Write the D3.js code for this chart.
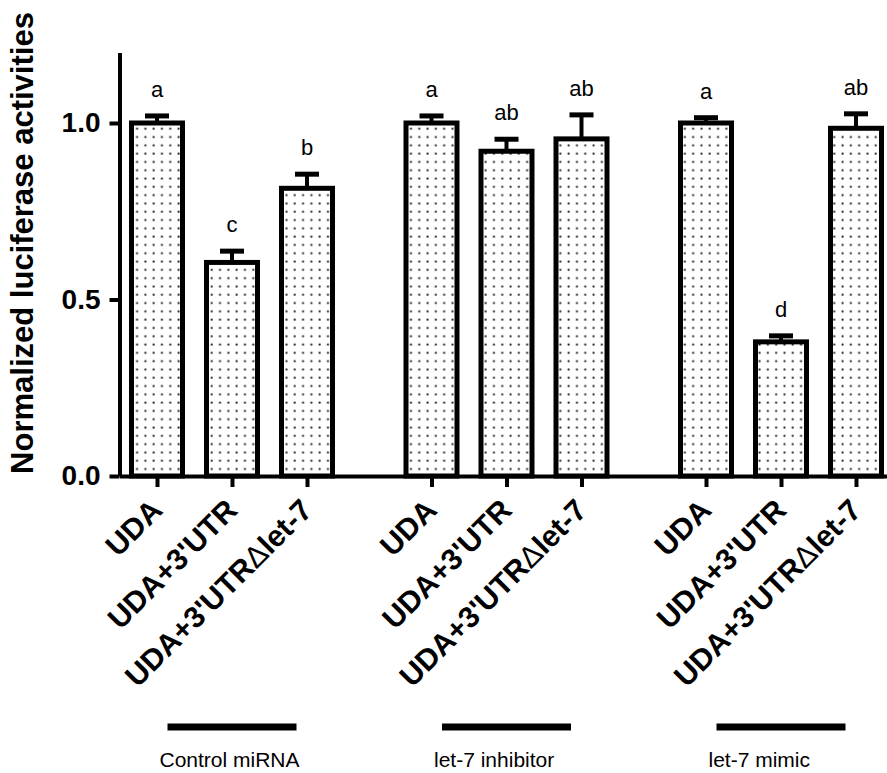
<!DOCTYPE html>
<html>
<head>
<meta charset="utf-8">
<script src="https://cdn.jsdelivr.net/npm/d3@7"></script>
<style>
  html, body { margin: 0; padding: 0; background: #fff; }
  svg { display: block; font-family: "Liberation Sans", Arial, sans-serif; }
</style>
</head>
<body>
<svg id="chart" width="887" height="773"></svg>
<script>
// Treatment groups and the reporter constructs tested within each
const groups = ["Control miRNA", "let-7 inhibitor", "let-7 mimic"];
const constructs = ["UDA", "UDA+3'UTR", "UDA+3'UTR\u0394let-7"];

// Normalized luciferase activity (mean) and SEM, group by group
const means = [1.00, 0.605, 0.815, 1.00, 0.92, 0.955, 1.00, 0.38, 0.985];
const errors = [0.02, 0.032, 0.04, 0.02, 0.034, 0.068, 0.015, 0.017, 0.041];
// Significance letters
const letters = ["a", "c", "b", "a", "ab", "ab", "a", "d", "ab"];
// Y axis ticks
const yTicks = [0.0, 0.5, 1.0];

const groupStep = 3.66; // slot units between groups (3 bars + gap)

const rows = [];
groups.forEach((g, gi) => {
  constructs.forEach((c, ci) => {
    const k = gi * constructs.length + ci;
    rows.push({
      group: g, gi, construct: c, pos: gi * groupStep + ci,
      mean: means[k], err: errors[k], letter: letters[k]
    });
  });
});

const svg = d3.select("#chart");

const x = d3.scaleLinear().domain([-0.5, 9.82]).range([119.5, 893.5]);
const y = d3.scaleLinear().domain([0, 1.2]).range([476, 52.4]);

const barW = 51;
const ink = "#000";

// dotted fill
const defs = svg.append("defs");
const pat = defs.append("pattern")
  .attr("id", "dots")
  .attr("patternUnits", "userSpaceOnUse")
  .attr("width", 8.3).attr("height", 8.3);
pat.append("rect").attr("width", 8.3).attr("height", 8.3).attr("fill", "#fff");
pat.append("rect").attr("x", 3.3).attr("y", 3.3).attr("width", 1.9).attr("height", 1.9).attr("fill", "#1a1a1a");

// error bars (upper half only; lower half hidden by the bar)
const eb = svg.append("g");
eb.selectAll("line.stem").data(rows).join("line")
  .attr("x1", d => x(d.pos)).attr("x2", d => x(d.pos))
  .attr("y1", d => y(d.mean)).attr("y2", d => y(d.mean + d.err))
  .attr("stroke", ink).attr("stroke-width", 4);
eb.selectAll("line.cap").data(rows).join("line")
  .attr("x1", d => x(d.pos) - 12).attr("x2", d => x(d.pos) + 12)
  .attr("y1", d => y(d.mean + d.err)).attr("y2", d => y(d.mean + d.err))
  .attr("stroke", ink).attr("stroke-width", 5);

// bars
svg.append("g").selectAll("rect").data(rows).join("rect")
  .attr("x", d => x(d.pos) - barW / 2)
  .attr("width", barW)
  .attr("y", d => y(d.mean))
  .attr("height", d => y(0) - y(d.mean))
  .attr("fill", "url(#dots)")
  .attr("stroke", ink).attr("stroke-width", 5);

// significance letters
svg.append("g").selectAll("text").data(rows).join("text")
  .attr("x", d => x(d.pos))
  .attr("y", d => y(d.mean + d.err) - 19)
  .attr("text-anchor", "middle")
  .attr("font-size", 22)
  .text(d => d.letter);

// y axis
const yAxis = svg.append("g")
  .attr("transform", `translate(${x.range()[0]},0)`)
  .call(d3.axisLeft(y).tickValues(yTicks).tickFormat(d3.format(".1f")).tickSize(10).tickSizeOuter(0).tickPadding(9));
yAxis.select(".domain").attr("stroke-width", 4).attr("stroke", ink);
yAxis.selectAll(".tick line").attr("stroke-width", 4).attr("stroke", ink);
yAxis.selectAll(".tick text")
  .attr("font-size", 28).attr("font-weight", "bold").attr("fill", ink)
  .attr("font-family", "'Liberation Sans', Arial, sans-serif");

// x axis
const xAxis = svg.append("g")
  .attr("transform", `translate(0,${y(0)})`)
  .call(d3.axisBottom(x).tickValues(rows.map(d => d.pos)).tickFormat("").tickSize(11).tickSizeOuter(0));
xAxis.select(".domain").attr("stroke-width", 4).attr("stroke", ink);
xAxis.selectAll(".tick line").attr("stroke-width", 4).attr("stroke", ink);

// rotated construct labels
const xl = svg.append("g").selectAll("text").data(rows).join("text")
  .attr("transform", d => `translate(${x(d.pos) + 7},${y(0) + 36}) rotate(-45)`)
  .attr("text-anchor", "end")
  .attr("font-size", 30)
  .attr("font-weight", "bold");
xl.each(function(d) {
  const t = d3.select(this);
  const parts = d.construct.split("\u0394");
  t.append("tspan").text(parts[0]);
  if (parts.length > 1) {
    t.append("tspan").attr("font-weight", "normal").text("\u0394");
    t.append("tspan").text(parts[1]);
  }
});

// y axis title
svg.append("text")
  .attr("transform", `translate(33,243) rotate(-90)`)
  .attr("text-anchor", "middle")
  .attr("font-size", 31)
  .attr("font-weight", "bold")
  .text("Normalized luciferase activities");

// group brackets and names
const lineW = 129;
const gsel = svg.append("g").selectAll("g").data(groups).join("g");
gsel.append("line")
  .attr("x1", (g, i) => x(i * groupStep + 1) - lineW / 2)
  .attr("x2", (g, i) => x(i * groupStep + 1) + lineW / 2)
  .attr("y1", 727).attr("y2", 727)
  .attr("stroke", ink).attr("stroke-width", 7);
gsel.append("text")
  .attr("x", (g, i) => x(i * groupStep + 1) - lineW / 2 - 8)
  .attr("y", 767)
  .attr("font-size", 21)
  .text(g => g);
</script>
</body>
</html>
